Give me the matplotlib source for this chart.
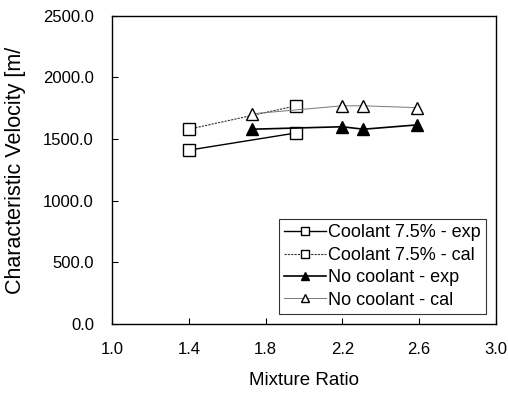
import matplotlib
matplotlib.use('Agg')
from matplotlib import pyplot as plt

plt.rcParams['font.family'] = ['Liberation Sans', 'DejaVu Sans']

# data
mr_coolant = [1.4, 1.96]
cstar_coolant_exp = [1410, 1550]
cstar_coolant_cal = [1580, 1770]

mr_nocool = [1.73, 2.20, 2.31, 2.59]
cstar_nocool_exp = [1580, 1600, 1580, 1615]
cstar_nocool_cal = [1705, 1770, 1770, 1755]

x_ticks = [1.0, 1.4, 1.8, 2.2, 2.6, 3.0]
y_ticks = [0, 500, 1000, 1500, 2000, 2500]

fig = plt.figure(figsize=(5.08, 3.96), dpi=100)
ax = fig.add_axes([0.2205, 0.182, 0.7555, 0.778])

ax.plot(mr_coolant, cstar_coolant_exp, color='black', lw=1.0, marker='s',
        ms=8, mfc='white', mec='black', mew=1.0, label='Coolant 7.5% - exp')
ax.plot(mr_coolant, cstar_coolant_cal, color='#333333', lw=0.8, ls=(0, (2, 1)),
        marker='s', ms=8, mfc='white', mec='black', mew=1.0,
        label='Coolant 7.5% - cal')
ax.plot(mr_nocool, cstar_nocool_exp, color='black', lw=1.2, marker='^',
        ms=8, mfc='black', mec='black', label='No coolant - exp')
ax.plot(mr_nocool, cstar_nocool_cal, color='#777777', lw=0.7, marker='^',
        ms=8, mfc='white', mec='black', mew=1.0, label='No coolant - cal')

ax.set_xlim(1.0, 3.0)
ax.set_ylim(0, 2500)
ax.set_xticks(x_ticks)
ax.set_xticklabels(['%.1f' % v for v in x_ticks], fontsize=12)
ax.set_yticks(y_ticks)
ax.set_yticklabels(['%.1f' % v for v in y_ticks], fontsize=12)
ax.tick_params(direction='in', length=4, width=0.8, pad=13)

for s in ax.spines.values():
    s.set_linewidth(1.0)

ax.set_xlabel('Mixture Ratio', fontsize=13.5, labelpad=11)
fig.text(0.03, 0.57, 'Characteristic Velocity [m/', rotation=90,
         fontsize=15.5, ha='center', va='center')

leg = ax.legend(loc='lower right', fontsize=13, frameon=True, fancybox=False,
                edgecolor='black', handlelength=2.3, handletextpad=0.15,
                labelspacing=0.3, borderpad=0.3, borderaxespad=0.2,
                markerscale=0.8, bbox_to_anchor=(0.985, 0.02))
leg.get_frame().set_linewidth(0.8)

plt.savefig('out.png', dpi=100)
plt.close()
